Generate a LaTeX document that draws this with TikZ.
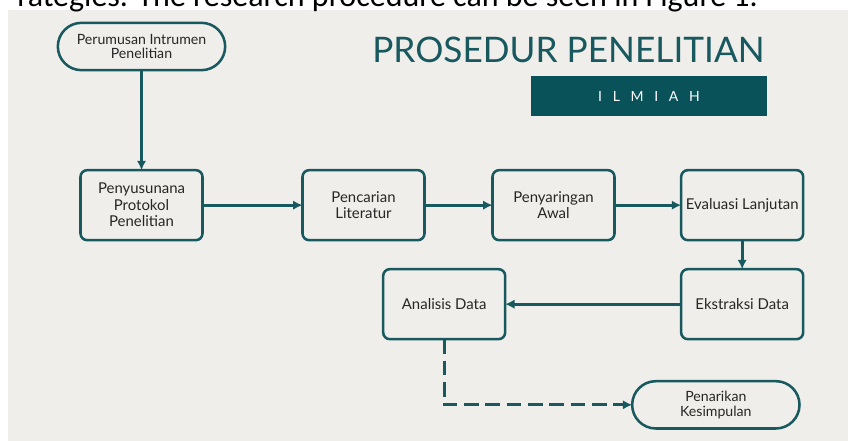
\documentclass[tikz,border=0pt]{standalone}
\usepackage{fontspec}
\setmainfont{Lato}
\newfontfamily\pagefont{Carlito}
\usetikzlibrary{arrows.meta,positioning,shapes.misc}
\definecolor{petrol}{RGB}{24,88,95}
\definecolor{banner}{RGB}{10,82,90}
\definecolor{paper}{RGB}{239,238,234}
\definecolor{ink}{RGB}{38,38,38}

\begin{document}
\begin{tikzpicture}[x=0.75pt, y=-0.75pt, font=\fontsize{11.2}{12.4}\selectfont,
  node distance=21.75pt and 75pt,
  box/.style={draw=petrol, line width=1.9pt, rounded corners=5pt, minimum width=91.5pt,
    minimum height=52.5pt, inner sep=2pt, outer sep=0pt, align=center, text=ink},
  pill/.style={draw=petrol, line width=1.9pt, rounded rectangle, minimum width=129.5pt,
    minimum height=35.5pt, inner sep=2pt, outer sep=0pt, align=center, text=ink,
    font=\fontsize{10.6}{11}\selectfont},
  flow/.style={-{Latex[length=7pt,width=7pt]}, petrol, line width=2.2pt}]
  \useasboundingbox (0,0) rectangle (848,441);
  \clip (0,0) rectangle (848,441);
  \fill[white] (0,0) rectangle (848,441);
  \fill[paper] (8,10) rectangle (848,441);
  \node[anchor=base east, inner sep=0pt, font=\pagefont\fontsize{24}{28}\selectfont]
    (kalimat) at (758,7) {rategies. The research procedure can be seen in Figure 1.};

  % judul
  \node[anchor=base west, inner sep=0pt, text=petrol, font=\fontsize{26.4}{30}\selectfont]
    (judul) at (372,63) {PROSEDUR PENELITIAN};
  \node[fill=banner, minimum width=177pt, minimum height=30pt, text=white,
    font=\fontsize{10.5}{12}\selectfont]
    (ilmiah) at (649,96) {I\kern8pt L\kern8pt M\kern8pt I\kern8pt A\kern8pt H};

  % alur
  \node[pill] (rumusan) at (141.5,46.5) {Perumusan Intrumen\\Penelitian};
  \node[box, below=75pt of rumusan] (protokol) {Penyusunana\\Protokol\\Penelitian};
  \node[box, right=of protokol] (pencarian) {Pencarian\\Literatur};
  \node[box, right=51pt of pencarian] (penyaringan) {Penyaringan\\Awal};
  \node[box, right=50pt of penyaringan] (evaluasi) {Evaluasi Lanjutan};
  \node[box, below=of evaluasi] (ekstraksi) {Ekstraksi Data};
  \node[box, left=132pt of ekstraksi] (analisis) {Analisis Data};
  \node[pill, below right=31.5pt and 113pt of analisis] (kesimpulan) {Penarikan\\Kesimpulan};

  \draw[flow] (rumusan) -- (protokol);
  \draw[flow] (protokol) -- (pencarian);
  \draw[flow] (pencarian) -- (penyaringan);
  \draw[flow] (penyaringan) -- (evaluasi);
  \draw[flow] (evaluasi) -- (ekstraksi);
  \draw[flow] (ekstraksi) -- (analisis);
  \draw[flow, dash pattern=on 11pt off 5pt] (analisis) |- (kesimpulan);
\end{tikzpicture}
\end{document}
